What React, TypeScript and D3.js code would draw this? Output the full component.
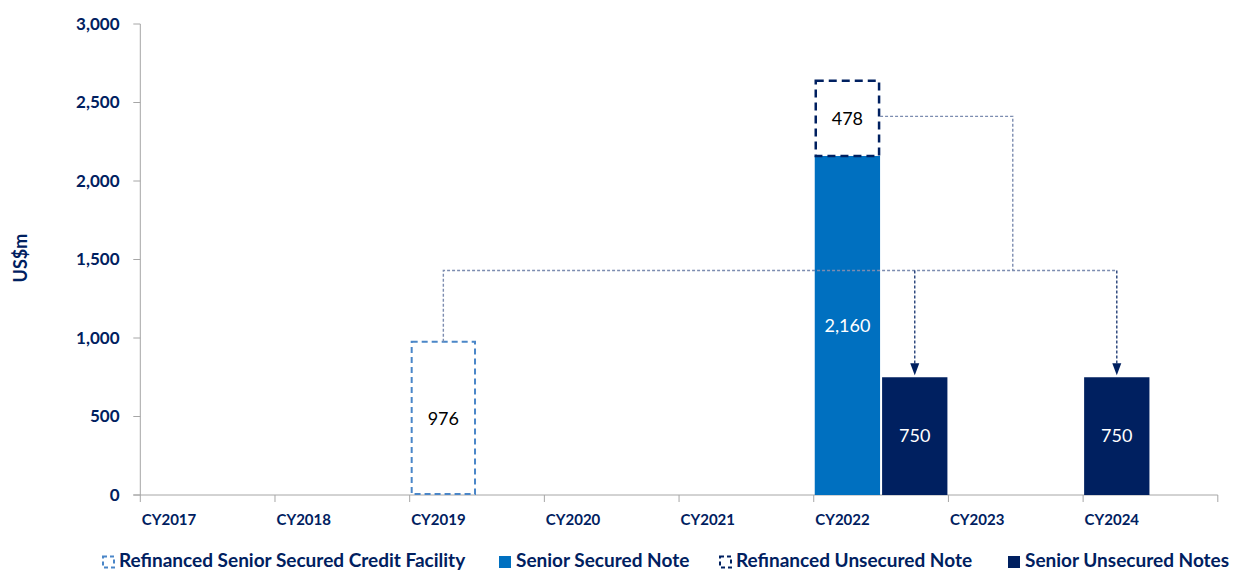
import React from "react";
import * as d3 from "d3";

const years = ["CY2017", "CY2018", "CY2019", "CY2020", "CY2021", "CY2022", "CY2023", "CY2024"];
const refinancedFacility = [0, 0, 976, 0, 0, 0, 0, 0];
const seniorSecured = [0, 0, 0, 0, 0, 2160, 0, 0];
const refinancedUnsecured = [0, 0, 0, 0, 0, 478, 0, 0];
const seniorUnsecured = [0, 0, 0, 0, 0, 750, 0, 750];
const seniorUnsecuredSlot = ["L", "L", "L", "L", "L", "R", "L", "L"];
const yTicks = [0, 500, 1000, 1500, 2000, 2500, 3000];
const connectorLevel = 1430;
const legendItems = [
  { label: "Refinanced Senior Secured Credit Facility", kind: "dashLight" },
  { label: "Senior Secured Note", kind: "solidBlue" },
  { label: "Refinanced Unsecured Note", kind: "dashNavy" },
  { label: "Senior Unsecured Notes", kind: "solidNavy" },
];

const W = 1234;
const H = 572;
const NAVY = "#002060";
const BLUE = "#0070C0";
const LIGHTDASH = "#4A86C8";
const AXIS = "#A6A6A6";
const CONN = "#7D8DB0";
const FONT = "Lato, 'Open Sans', sans-serif";

export default function App() {
  const left = 140.3;
  const right = 1217.8;
  const top = 24;
  const bottom = 495;

  const x0 = d3.scaleBand<string>().domain(years).range([left, right]).padding(0);
  const x1 = d3.scaleBand<string>().domain(["L", "R"]).range([0, x0.bandwidth()]).paddingInner(0.03).paddingOuter(0.015);
  const y = d3.scaleLinear().domain([0, 3000]).range([bottom, top]);

  const bx = (yr: string, slot: string) => (x0(yr) as number) + (x1(slot) as number);
  const bw = x1.bandwidth();

  const bars: any[] = [];
  years.forEach((yr, i) => {
    if (refinancedFacility[i] > 0) {
      bars.push({ yr, slot: "L", y0: 0, y1: refinancedFacility[i], kind: "dashLight", v: refinancedFacility[i] });
    }
    if (seniorSecured[i] > 0) {
      bars.push({ yr, slot: "L", y0: 0, y1: seniorSecured[i], kind: "solidBlue", v: seniorSecured[i] });
    }
    if (refinancedUnsecured[i] > 0) {
      bars.push({ yr, slot: "L", y0: seniorSecured[i], y1: seniorSecured[i] + refinancedUnsecured[i], kind: "dashNavy", v: refinancedUnsecured[i] });
    }
    if (seniorUnsecured[i] > 0) {
      bars.push({ yr, slot: seniorUnsecuredSlot[i], y0: 0, y1: seniorUnsecured[i], kind: "solidNavy", v: seniorUnsecured[i] });
    }
  });

  const fmt = d3.format(",");

  // connectors
  const srcX = bx("CY2019", "L") + bw / 2;
  const srcTop = y(refinancedFacility[2]);
  const arrowA = bx("CY2022", "R") + bw / 2;
  const arrowB = bx("CY2024", "L") + bw / 2;
  const lvl = y(connectorLevel);
  const topLvl = y(seniorSecured[5] + refinancedUnsecured[5] / 2) - 2;
  const boxRight = bx("CY2022", "L") + bw;
  const midX = (arrowA + arrowB) / 2 - 3;
  const arrowTipA = y(seniorUnsecured[5]) - 2;
  const arrowTipB = y(seniorUnsecured[7]) - 2;

  const legendX = [102, 499, 719, 1008];

  return (
    <svg width={W} height={H} style={{ display: "block", position: "absolute", left: 0, top: 0 }}>
      <rect width={W} height={H} fill="#fff" />
      {/* axes */}
      <line x1={left} x2={left} y1={top} y2={bottom} stroke={AXIS} strokeWidth={1} />
      <line x1={left - 7} x2={right} y1={bottom} y2={bottom} stroke={AXIS} strokeWidth={1} />
      {yTicks.map((t) => (
        <g key={t}>
          <line x1={left - 7} x2={left} y1={y(t)} y2={y(t)} stroke={AXIS} />
          <text x={119.5} y={y(t)} dy="0.35em" textAnchor="end" fontFamily={FONT} fontWeight={700} fontSize={17} fill={NAVY}>
            {fmt(t)}
          </text>
        </g>
      ))}
      {[...years.map((yr) => x0(yr) as number), right].map((xv, i) => (
        <line key={i} x1={xv} x2={xv} y1={bottom} y2={bottom + 7} stroke={AXIS} />
      ))}
      {years.map((yr) => (
        <text key={yr} x={(x0(yr) as number) + 1.5} y={520} dy="0.35em" fontFamily={FONT} fontWeight={700} fontSize={15} fill={NAVY}>
          {yr}
        </text>
      ))}
      <text transform={`translate(20.5,258) rotate(-90)`} textAnchor="middle" dy="0.35em" fontFamily={FONT} fontWeight={700} fontSize={18} fill={NAVY}>
        US$m
      </text>

      {/* bars */}
      {bars.map((b, i) => {
        const xx = bx(b.yr, b.slot);
        const yTop = y(b.y1);
        const yBot = y(b.y0);
        const h = yBot - yTop;
        let el;
        if (b.kind === "solidBlue" || b.kind === "solidNavy") {
          el = <rect x={xx} y={yTop} width={bw} height={h} fill={b.kind === "solidBlue" ? BLUE : NAVY} />;
        } else if (b.kind === "dashLight") {
          el = (
            <rect x={xx + 1} y={yTop} width={bw - 2} height={h - 1} fill="#fff" stroke={LIGHTDASH} strokeWidth={2} strokeDasharray="6,4" />
          );
        } else {
          el = (
            <rect x={xx + 1} y={yTop} width={bw - 2} height={h} fill="#fff" stroke={NAVY} strokeWidth={2.5} strokeDasharray="8,5" />
          );
        }
        const light = b.kind === "solidBlue" || b.kind === "solidNavy";
        return (
          <g key={i}>
            {el}
            <text x={xx + bw / 2} y={(yTop + yBot) / 2} dy="0.35em" textAnchor="middle" fontFamily={FONT} fontSize={18} fill={light ? "#fff" : "#000"}>
              {fmt(b.v)}
            </text>
          </g>
        );
      })}

      {/* connectors */}
      <path
        d={`M${srcX},${srcTop}V${lvl}H${arrowB}`}
        fill="none"
        stroke={CONN}
        strokeWidth={1.4}
        strokeDasharray="3,2"
      />
      <path
        d={`M${boxRight},${topLvl}H${midX}V${lvl}`}
        fill="none"
        stroke={CONN}
        strokeWidth={1.4}
        strokeDasharray="3,2"
      />
      {[
        [arrowA, arrowTipA],
        [arrowB, arrowTipB],
      ].map(([ax, tip], i) => (
        <g key={i}>
          <line x1={ax} x2={ax} y1={lvl} y2={tip - 10} stroke="#243F78" strokeWidth={1.4} strokeDasharray="3,2" />
          <path d={`M${ax - 4.5},${tip - 12}L${ax + 4.5},${tip - 12}L${ax},${tip}Z`} fill={NAVY} />
        </g>
      ))}

      {/* legend */}
      {legendItems.map((it, i) => {
        const lx = legendX[i];
        const ly = 562;
        let icon;
        if (it.kind === "solidBlue" || it.kind === "solidNavy") {
          icon = <rect x={lx} y={ly - 6} width={12} height={12} fill={it.kind === "solidBlue" ? BLUE : NAVY} />;
        } else {
          const c = it.kind === "dashLight" ? LIGHTDASH : NAVY;
          icon = (
            <rect x={lx + 1} y={ly - 5.5} width={11} height={11} fill="none" stroke={c} strokeWidth={2} strokeDasharray="4,3" />
          );
        }
        return (
          <g key={i}>
            {icon}
            <text x={lx + 17} y={567} fontFamily={FONT} fontWeight={700} fontSize={19} fill={NAVY}>
              {it.label}
            </text>
          </g>
        );
      })}
    </svg>
  );
}
